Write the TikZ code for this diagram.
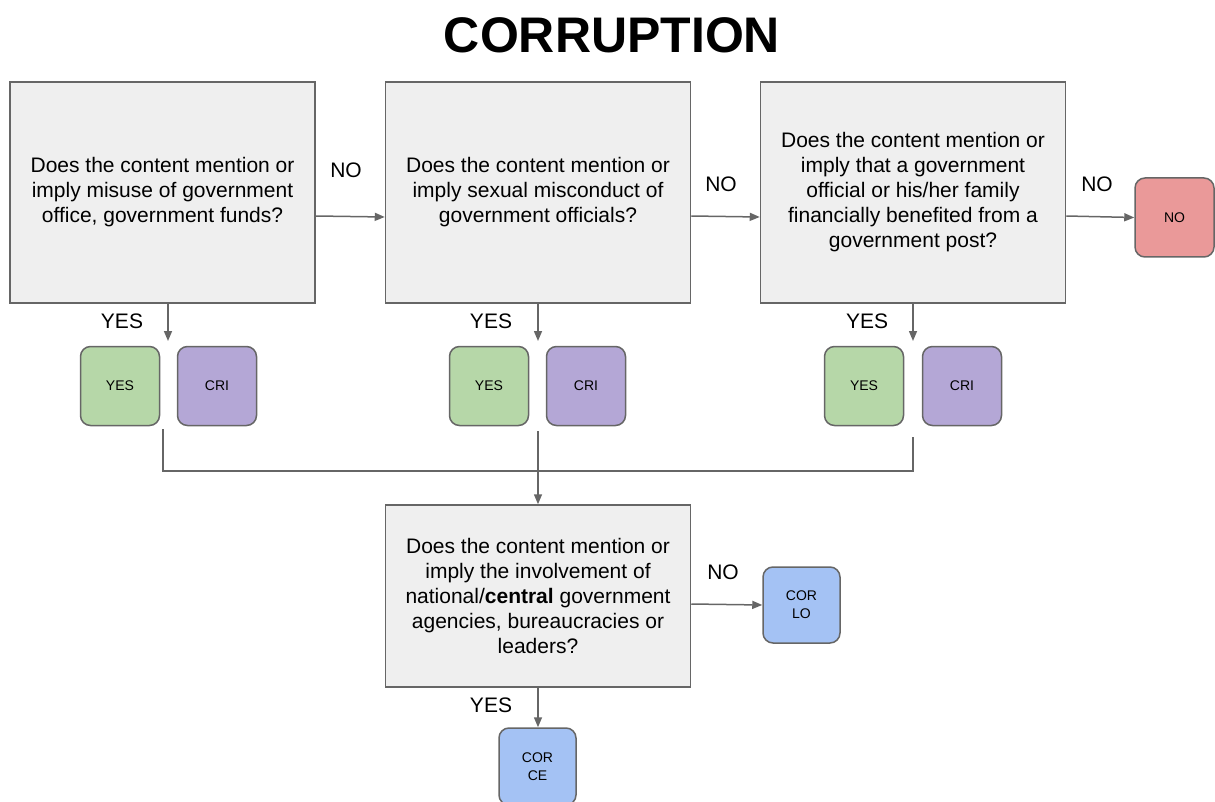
\documentclass[tikz,border=0pt]{standalone}
\usepackage{fontspec}
\setmainfont{Liberation Sans}
\usepackage{xcolor}
\usepackage{tikz}
\usetikzlibrary{arrows.meta,positioning}
\definecolor{qfill}{HTML}{EFEFEF}
\definecolor{edge}{HTML}{666666}
\definecolor{yesfill}{HTML}{B6D7A8}
\definecolor{crifill}{HTML}{B4A7D6}
\definecolor{nofill}{HTML}{EA9999}
\definecolor{corfill}{HTML}{A4C2F4}

\begin{document}
\begin{tikzpicture}[x=1pt,y=-1pt,
    question/.style={draw=edge,line width=1.5pt,fill=qfill,minimum width=305pt,minimum height=221pt,inner sep=0pt,align=center,font=\fontsize{21}{25}\selectfont},
    tag/.style={draw=edge,line width=1.5pt,rounded corners=10pt,minimum width=79pt,minimum height=79pt,inner sep=0pt,align=center,font=\fontsize{14}{18}\selectfont},
    answer/.style={font=\fontsize{21}{25}\selectfont,inner sep=0pt},
    link/.style={draw=edge,line width=1.5pt},
    arr/.style={link,-{Triangle[length=10pt,width=8pt]}}]
      \useasboundingbox (0,0) rectangle (1215,802);
      \node[font=\fontsize{50}{60}\selectfont\bfseries] (title) at (612,35) {CORRUPTION};
      \node[question] (q_1) at (162.5,192.5) {Does the content mention or\\imply misuse of government\\office, government funds?};
      \node[question] (q_2) at (538,192.5) {Does the content mention or\\imply sexual misconduct of\\government officials?};
      \node[question] (q_3) at (913,192.5) {Does the content mention or\\imply that a government\\official or his/her family\\financially benefited from a\\government post?};
      \node[question,minimum height=182pt] (q_4) at (538,596) {Does the content mention or\\imply the involvement of\\national/\textbf{central} government\\agencies, bureaucracies or\\leaders?};
      \node[tag,fill=nofill] (no) at (1174.5,217.5) {NO};
      \node[tag,fill=yesfill] (yes_1) at (120,386) {YES};
      \node[tag,fill=crifill] (cri_1) at (217,386) {CRI};
      \node[tag,fill=yesfill] (yes_2) at (489,386) {YES};
      \node[tag,fill=crifill] (cri_2) at (586,386) {CRI};
      \node[tag,fill=yesfill] (yes_3) at (864,386) {YES};
      \node[tag,fill=crifill] (cri_3) at (962,386) {CRI};
      \node[tag,fill=corfill,minimum width=77pt,minimum height=76pt] (cor_lo) at (801.5,605) {COR\\LO};
      \node[tag,fill=corfill,minimum width=77pt,minimum height=77pt] (cor_ce) at (537.5,766.5) {COR\\CE};
      \node[answer] (no_1) at (346,170) {NO};
      \node[answer] (no_2) at (721,184) {NO};
      \node[answer] (no_3) at (1097,184) {NO};
      \node[answer] (no_4) at (723,572) {NO};
      \node[answer] (yes_l1) at (122,321) {YES};
      \node[answer] (yes_l2) at (491,321) {YES};
      \node[answer] (yes_l3) at (867,321) {YES};
      \node[answer] (yes_l4) at (491,705) {YES};
      \coordinate (gap_1) at (168,341);
      \coordinate (gap_2) at (538,341);
      \coordinate (gap_3) at (913,341);
      \coordinate (c_1) at (163,429);
      \coordinate (c_2) at (538,431);
      \coordinate (c_3) at (913,437);
      \coordinate (hub) at (538,471);
      \draw[arr] ([yshift=-23.5pt]q_1.east) -- ([yshift=-24.5pt]q_2.west);
      \draw[arr] ([yshift=-23.5pt]q_2.east) -- ([yshift=-24.5pt]q_3.west);
      \draw[arr] ([yshift=-23.5pt]q_3.east) -- (no.west);
      \draw[arr] (q_1.south -| gap_1) -- (gap_1);
      \draw[arr] (q_2.south -| gap_2) -- (gap_2);
      \draw[arr] (q_3.south -| gap_3) -- (gap_3);
      \draw[link] (c_1) |- (hub) -| (c_3);
      \draw[arr] (c_2) -- (q_4.north);
      \draw[arr] ([yshift=-8pt]q_4.east) -- (cor_lo.west);
      \draw[arr] (q_4.south) -- (q_4.south |- cor_ce.north);
    \end{tikzpicture}
\end{document}
